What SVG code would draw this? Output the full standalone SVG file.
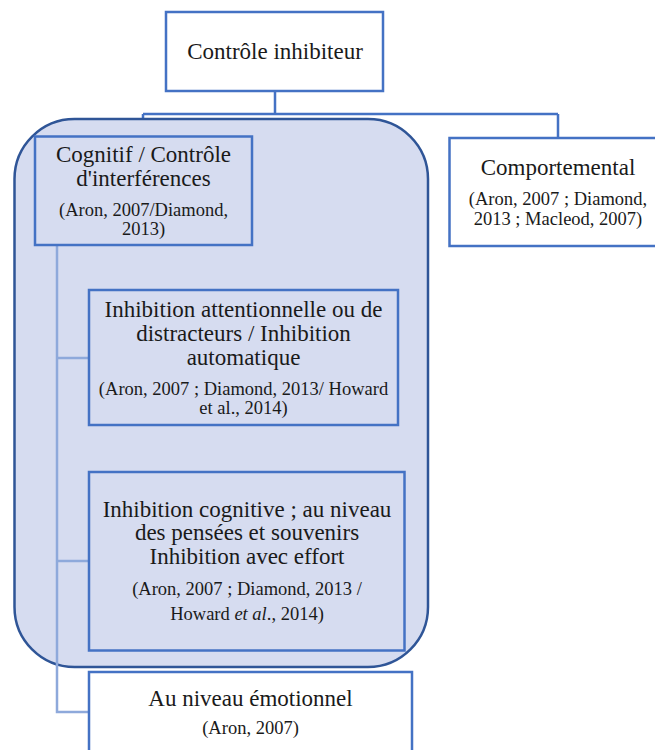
<svg xmlns="http://www.w3.org/2000/svg" width="655" height="750" viewBox="0 0 655 750">
  <style>
    .box { stroke: #4472C4; stroke-width: 2.5; }
    .white { fill: #FFFFFF; }
    .clear { fill: none; }
    .title { font-family: "Liberation Serif", "Times New Roman", serif; font-size: 23px; fill: #1A1A1A; text-anchor: middle; }
    .cite { font-family: "Liberation Serif", "Times New Roman", serif; font-size: 18.5px; fill: #1A1A1A; text-anchor: middle; }
    .link-top { fill: none; stroke: #4472C4; stroke-width: 2.5; }
    .link-sub { fill: none; stroke: #8EA9DB; stroke-width: 2.5; }
  </style>
  <rect width="655" height="750" fill="#FFFFFF"/>

  <!-- upper connectors: root to its two branches -->
  <g id="connectors-top">
    <path class="link-top" d="M275 91 V114 M143 114 H558 M143 114 V136 M558 114 V137"/>
  </g>

  <!-- shaded grouping around the cognitive branch -->
  <g id="cognitive-group">
    <rect x="14.5" y="119" width="413.5" height="548" rx="60" ry="60" fill="#D6DCF0" stroke="#2F5597" stroke-width="2.5"/>
  </g>

  <!-- lower connectors: cognitive branch to its children -->
  <g id="connectors-sub">
    <path class="link-sub" d="M57 245 V712 H89 M57 358 H89 M57 561 H89"/>
  </g>

  <g id="root">
    <rect class="box white" x="166" y="12" width="217" height="79"/>
    <text class="title" x="275" y="59">Contrôle inhibiteur</text>
  </g>

  <g id="cognitif">
    <rect class="box clear" x="35" y="136.5" width="217" height="108.5"/>
    <text class="title" x="143.5" y="161.5">Cognitif / Contrôle</text>
    <text class="title" x="143.5" y="185.5">d'interférences</text>
    <text class="cite" x="143.5" y="216">(Aron, 2007/Diamond,</text>
    <text class="cite" x="143.5" y="235">2013)</text>
  </g>

  <g id="comportemental">
    <rect class="box white" x="449.5" y="138" width="216" height="108"/>
    <text class="title" x="558" y="175">Comportemental</text>
    <text class="cite" x="558" y="205">(Aron, 2007 ; Diamond,</text>
    <text class="cite" x="558" y="225">2013 ; Macleod, 2007)</text>
  </g>

  <g id="inhibition-attentionnelle">
    <rect class="box clear" x="89" y="290" width="309" height="135"/>
    <text class="title" x="243.5" y="317">Inhibition attentionnelle ou de</text>
    <text class="title" x="243.5" y="341">distracteurs / Inhibition</text>
    <text class="title" x="243.5" y="365">automatique</text>
    <text class="cite" x="243.5" y="395">(Aron, 2007 ; Diamond, 2013/ Howard</text>
    <text class="cite" x="243.5" y="413.5">et al., 2014)</text>
  </g>

  <g id="inhibition-cognitive">
    <rect class="box clear" x="89" y="472" width="315.5" height="178.5"/>
    <text class="title" x="247" y="516.5">Inhibition cognitive ; au niveau</text>
    <text class="title" x="247" y="540">des pensées et souvenirs</text>
    <text class="title" x="247" y="564">Inhibition avec effort</text>
    <text class="cite" x="247" y="594.5">(Aron, 2007 ; Diamond, 2013 /</text>
    <text class="cite" x="247" y="620">Howard <tspan font-style="italic">et al</tspan>., 2014)</text>
  </g>

  <g id="emotionnel">
    <rect class="box white" x="89" y="672" width="323" height="90"/>
    <text class="title" x="250.5" y="705.5">Au niveau émotionnel</text>
    <text class="cite" x="250.5" y="734">(Aron, 2007)</text>
  </g>
</svg>
